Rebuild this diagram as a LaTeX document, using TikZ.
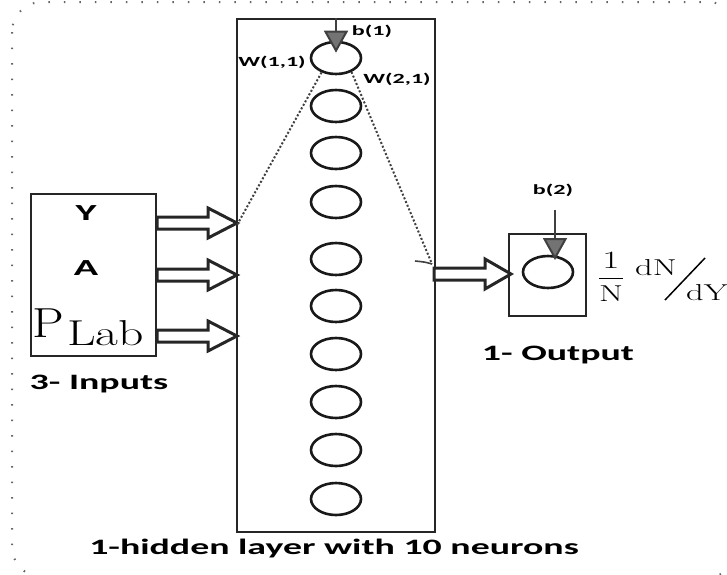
\documentclass[tikz,border=0pt]{standalone}
\usepackage{fontspec}
\setsansfont{Carlito}
\usetikzlibrary{arrows.meta,shapes.geometric,calc}
\newcommand\wide[2][1.72]{\scalebox{#1}[1]{#2}}
\newcommand\blkarrow[4]{%
  \draw[blk] (#1,#2-6) -- (#3,#2-6) -- (#3,#2-15) -- (#4,#2) -- (#3,#2+15) -- (#3,#2+6) -- (#1,#2+6) -- cycle;}
\begin{document}
\begin{tikzpicture}[x=1pt,y=-1pt,
  neuron/.style={draw=black!90, line width=2.6pt, ellipse, minimum width=50pt, minimum height=32pt, inner sep=0pt},
  boxn/.style={draw=black!85, line width=2.2pt, rectangle, inner sep=0pt, anchor=north west},
  blk/.style={draw=black!85, line width=3pt, fill=white, line join=miter},
  lbl/.style={font=\fontsize{22}{24}\sffamily\bfseries, inner sep=0pt},
  inl/.style={font=\fontsize{23}{25}\sffamily\bfseries, inner sep=0pt},
  sml/.style={font=\fontsize{14}{16}\sffamily\bfseries, inner sep=0pt},
  wdot/.style={draw=black!75, line width=2pt, dash pattern=on 2pt off 2pt},
  bias/.style={draw=black!75, line width=2pt, -{Triangle[width=24pt,length=22pt,fill=black!55]}},
  mth/.style={font=\fontsize{23}{27}\selectfont, inner sep=0pt}]
\useasboundingbox (0,0) rectangle (727,574);
% outer dotted frame
\begin{scope}
\clip (0,0) rectangle (727,574);
\draw[black!60, line width=2pt, dash pattern=on 1.5pt off 14pt, rounded corners=30pt] (12,2) rectangle (738,577);
\end{scope}
% hidden layer box
\node[boxn, minimum width=198pt, minimum height=513pt] (hid) at (236,18) {};
\foreach \yy [count=\i] in {58,106,153,202,259,306,354,402,450,499}
  \node[neuron] (n\i) at (336,\yy) {};
% input box
\node[boxn, minimum width=125pt, minimum height=162pt] (inp) at (30,193) {};
\node[inl] (ly) at (86,213) {\wide[1.75]{Y}};
\node[inl] (la) at (86,268) {\wide[1.75]{A}};
\node[inner sep=0pt, anchor=base west] (lp) at (32,337) {\scalebox{1.2}[1]{\fontsize{42}{46}\selectfont P}};
\node[inner sep=0pt, anchor=base west] (lsub) at (67,345) {\scalebox{1.38}[1]{\fontsize{36}{40}\selectfont Lab}};
\node[lbl] (l3) at (99,384) {\wide{3- Inputs}};
% input arrows
\blkarrow{157}{223}{208}{237}
\blkarrow{157}{275}{208}{237}
\blkarrow{157}{336}{208}{237}
\coordinate (t1) at (237,225);
% output box
\node[boxn, minimum width=77pt, minimum height=82pt] (outb) at (508,233) {};
\node[neuron] (n11) at (548,272) {};
\blkarrow{434}{274}{485}{511}
\node[lbl] (l1) at (558,355) {\wide{1- Output}};
% biases
\coordinate (b1top) at (336,18);
\draw[bias] (b1top) -- ($(n1.north)+(0,12)$);
\node[sml] (lb1) at (372,31) {\wide{b(1)}};
\coordinate (b2top) at (555,210);
\draw[bias] (b2top) -- (555,260);
\node[sml] (lb2) at (553,190) {\wide{b(2)}};
% weights
\coordinate (wend) at (432,264);
\draw[wdot] (n1.225) -- (t1);
\draw[wdot] (n1.318) -- (wend);
\draw[black!75, line width=1.6pt] (wend) .. controls (425,262) .. (415,261);
\node[sml] (lw1) at (272,62) {\wide{W(1,1)}};
\node[sml] (lw2) at (397,79) {\wide{W(2,1)}};
% formula
\node[mth] (fr) at (611,277) {\scalebox{1.5}[1]{$\displaystyle\frac{1}{\mathrm{N}}$}};
\node[mth, anchor=base] (dn) at (656,275) {\scalebox{1.5}[1]{$\mathrm{dN}$}};
\node[mth, anchor=base] (dy) at (707,300) {\scalebox{1.5}[1]{$\mathrm{dY}$}};
\coordinate (s1) at (665,300);
\coordinate (s2) at (705,258);
\draw[black, line width=1.5pt] (s1) -- (s2);
% caption
\node[lbl] (cap) at (334,548) {\wide{1-hidden layer with 10 neurons}};
\end{tikzpicture}
\end{document}
